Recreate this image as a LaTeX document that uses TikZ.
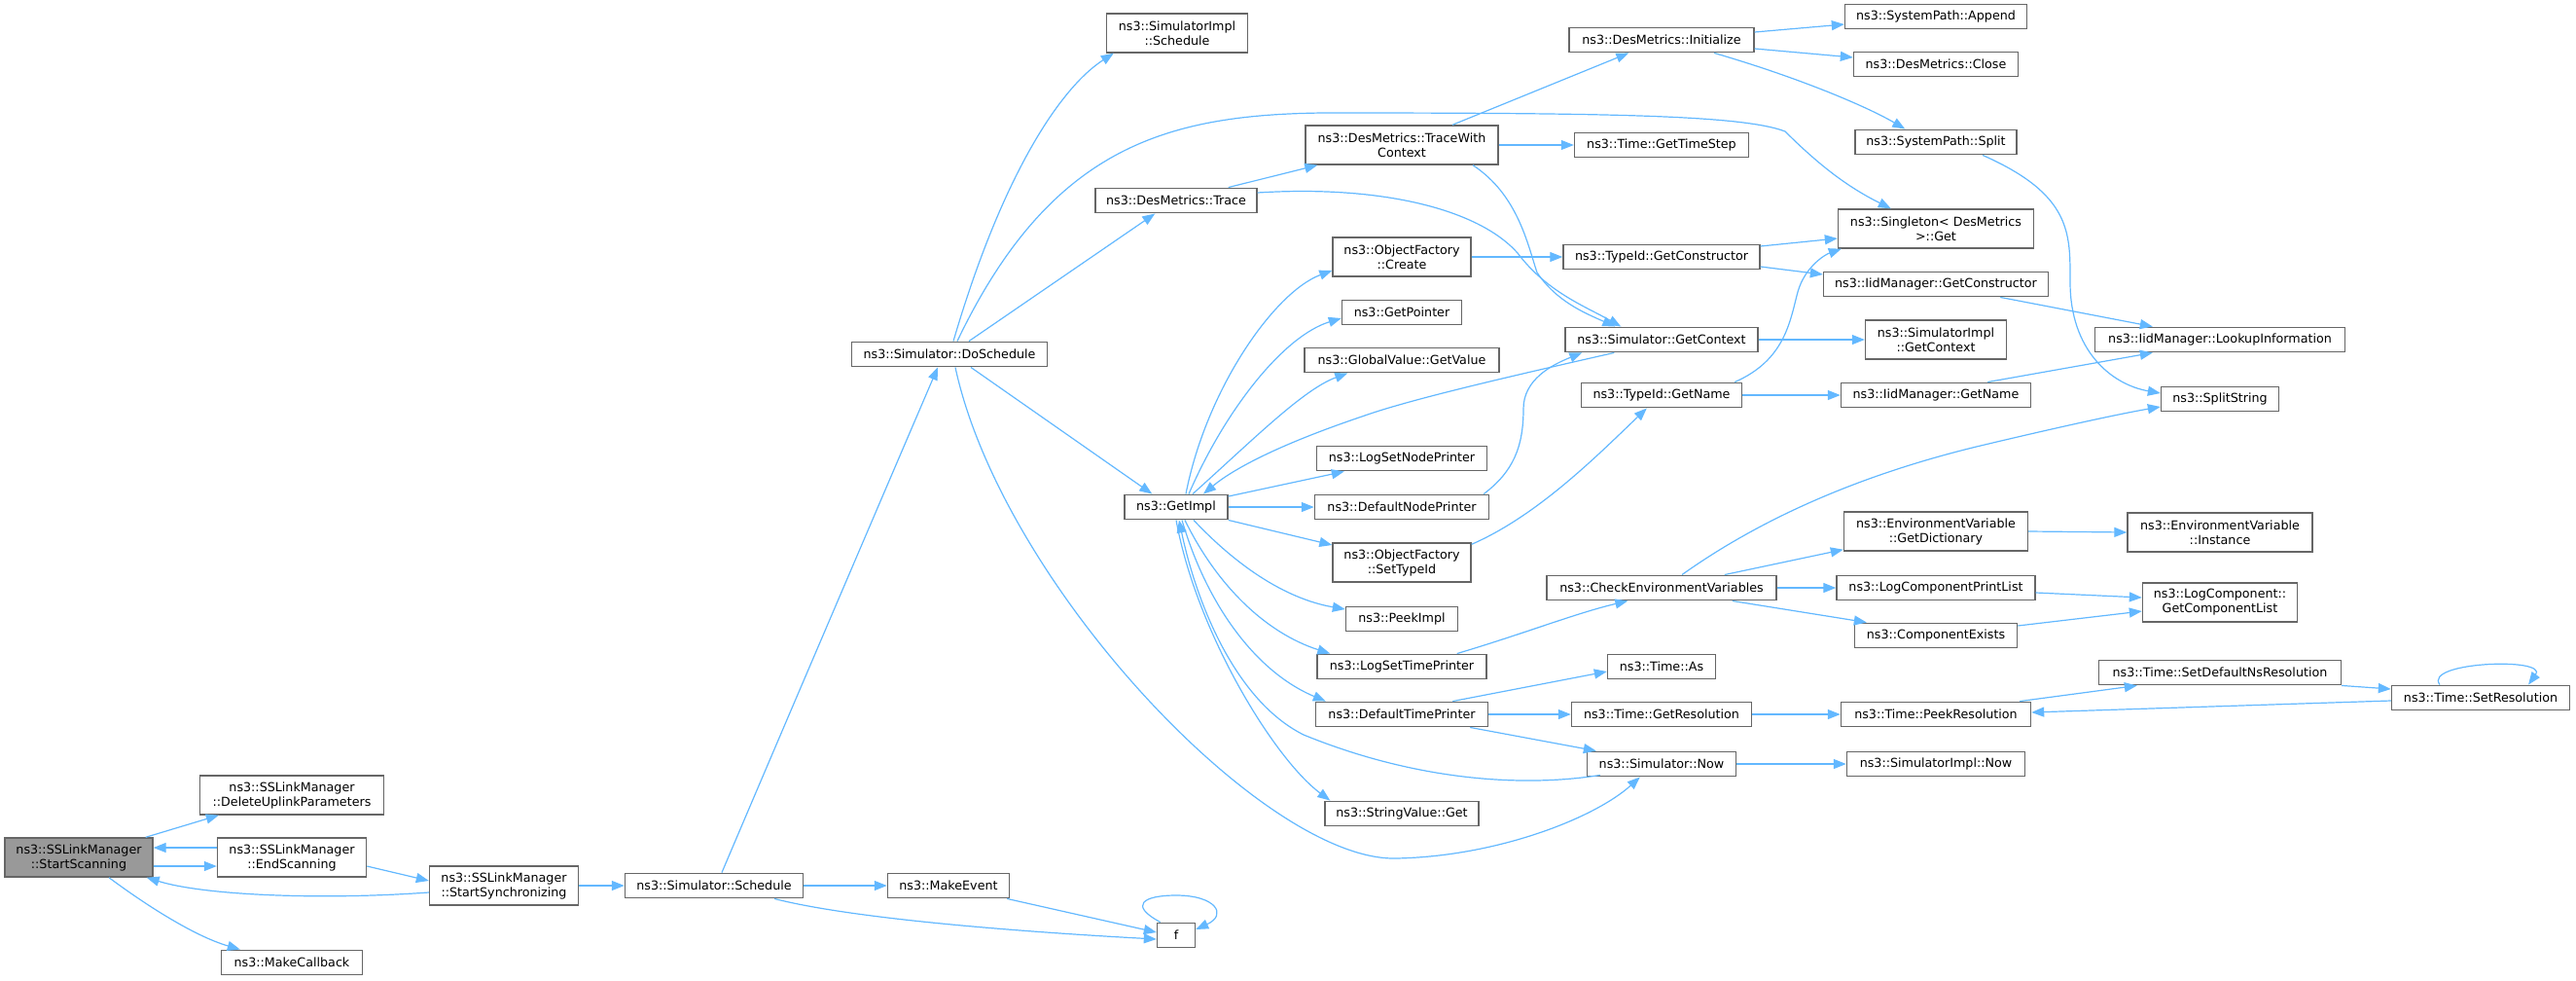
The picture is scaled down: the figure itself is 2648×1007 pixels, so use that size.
\documentclass[tikz,border=0pt]{standalone}
\usepackage{fontspec}
\setmainfont{DejaVu Sans}
\usetikzlibrary{arrows.meta,calc}
\definecolor{edgeblue}{HTML}{63B8FF}
\definecolor{boxgray}{HTML}{666666}
\definecolor{rootgray}{HTML}{999999}
\begin{document}
\begin{tikzpicture}[x=1pt,y=-1pt,
    fn/.style={draw=boxgray,line width=1.4pt,fill=white,inner sep=0pt,align=center,
      minimum height=25.5pt,font=\fontsize{12.7}{15}\selectfont},
    fn2/.style={fn,minimum height=40pt},
    call/.style={draw=edgeblue,line width=1.2pt,-{Triangle[length=13pt,width=10pt]}}]
    \useasboundingbox (0,0) rectangle (2648,1007);

    \node[fn2,fill=rootgray,minimum width=152pt] (ss) at (81,881) {ns3::SSLinkManager\\::StartScanning};
    \node[fn2,minimum width=189pt] (dup) at (300,817) {ns3::SSLinkManager\\::DeleteUplinkParameters};
    \node[fn2,minimum width=153pt] (es) at (300,881) {ns3::SSLinkManager\\::EndScanning};
    \node[fn,minimum width=145pt] (mc) at (300,989) {ns3::MakeCallback};
    \node[fn2,minimum width=153pt] (sync) at (518,910) {ns3::SSLinkManager\\::StartSynchronizing};
    \node[fn,minimum width=183pt] (sched) at (734,910) {ns3::Simulator::Schedule};
    \node[fn,minimum width=125pt] (mev) at (975,910) {ns3::MakeEvent};
    \node[fn,minimum width=39pt] (f) at (1209,961) {f};
    \node[fn,minimum width=201pt] (dos) at (976,364) {ns3::Simulator::DoSchedule};

    \node[fn2,minimum width=145pt] (implsched) at (1210,34) {ns3::SimulatorImpl\\::Schedule};
    \node[fn,minimum width=166pt] (trace) at (1209,206) {ns3::DesMetrics::Trace};
    \node[fn,minimum width=106pt] (gimpl) at (1209,521) {ns3::GetImpl};

    \node[fn2,minimum width=198pt] (twc) at (1441,149) {ns3::DesMetrics::TraceWith\\Context};
    \node[fn2,minimum width=142pt] (ofc) at (1441,264) {ns3::ObjectFactory\\::Create};
    \node[fn,minimum width=123pt] (gptr) at (1441,321) {ns3::GetPointer};
    \node[fn,minimum width=200pt] (gval) at (1441,370) {ns3::GlobalValue::GetValue};
    \node[fn,minimum width=175pt] (lsnp) at (1441,471) {ns3::LogSetNodePrinter};
    \node[fn,minimum width=179pt] (dnp) at (1441,521) {ns3::DefaultNodePrinter};
    \node[fn2,minimum width=142pt] (ofs) at (1441,578) {ns3::ObjectFactory\\::SetTypeId};
    \node[fn,minimum width=115pt] (peek) at (1441,636) {ns3::PeekImpl};
    \node[fn,minimum width=174pt] (lstp) at (1441,685) {ns3::LogSetTimePrinter};
    \node[fn,minimum width=177pt] (dtp) at (1441,734) {ns3::DefaultTimePrinter};
    \node[fn,minimum width=158pt] (svget) at (1441,836) {ns3::StringValue::Get};

    \node[fn,minimum width=190pt] (init) at (1708,41) {ns3::DesMetrics::Initialize};
    \node[fn,minimum width=179pt] (tstep) at (1708,149) {ns3::Time::GetTimeStep};
    \node[fn,minimum width=202pt] (gcons) at (1708,264) {ns3::TypeId::GetConstructor};
    \node[fn,minimum width=198pt] (sgctx) at (1708,349) {ns3::Simulator::GetContext};
    \node[fn,minimum width=165pt] (tgname) at (1708,406) {ns3::TypeId::GetName};
    \node[fn,minimum width=236pt] (cev) at (1708,604) {ns3::CheckEnvironmentVariables};
    \node[fn,minimum width=111pt] (tas) at (1708,685) {ns3::Time::As};
    \node[fn,minimum width=185pt] (gres) at (1708,734) {ns3::Time::GetResolution};
    \node[fn,minimum width=153pt] (snow) at (1708,785) {ns3::Simulator::Now};

    \node[fn,minimum width=187pt] (app) at (1990,17) {ns3::SystemPath::Append};
    \node[fn,minimum width=169pt] (close) at (1990,66) {ns3::DesMetrics::Close};
    \node[fn,minimum width=166pt] (split) at (1990,146) {ns3::SystemPath::Split};
    \node[fn2,minimum width=201pt] (sget) at (1990,235) {ns3::Singleton< DesMetrics\\ >::Get};
    \node[fn,minimum width=231pt] (iidcons) at (1990,292) {ns3::IidManager::GetConstructor};
    \node[fn2,minimum width=145pt] (implctx) at (1990,349) {ns3::SimulatorImpl\\::GetContext};
    \node[fn,minimum width=195pt] (iidname) at (1990,406) {ns3::IidManager::GetName};
    \node[fn2,minimum width=189pt] (gdict) at (1990,546) {ns3::EnvironmentVariable\\::GetDictionary};
    \node[fn,minimum width=204pt] (lcpl) at (1990,604) {ns3::LogComponentPrintList};
    \node[fn,minimum width=167pt] (cex) at (1990,653) {ns3::ComponentExists};
    \node[fn,minimum width=195pt] (pres) at (1990,734) {ns3::Time::PeekResolution};
    \node[fn,minimum width=183pt] (implnow) at (1990,785) {ns3::SimulatorImpl::Now};

    \node[fn,minimum width=257pt] (lookup) at (2282,349) {ns3::IidManager::LookupInformation};
    \node[fn,minimum width=121pt] (splits) at (2282,410) {ns3::SplitString};
    \node[fn2,minimum width=190pt] (evinst) at (2282,547) {ns3::EnvironmentVariable\\::Instance};
    \node[fn2,minimum width=159pt] (gcl) at (2282,619) {ns3::LogComponent::\\GetComponentList};
    \node[fn,minimum width=249pt] (sdnr) at (2282,691) {ns3::Time::SetDefaultNsResolution};
    \node[fn,minimum width=183pt] (sres) at (2550,717) {ns3::Time::SetResolution};

    \draw[call] ($(ss.north east)+(-8,0)$) -- ($(dup.south west)+(20,0)$);
    \draw[call] ($(ss.east)+(0,9)$) -- ($(es.west)+(0,9)$);
    \draw[call] ($(es.west)+(0,-10)$) -- ($(ss.east)+(0,-10)$);
    \draw[call] ($(es.east)+(0,9)$) -- ($(sync.west)+(0,-5)$);
    \draw[call] ($(sync.west)+(0,7)$) .. controls (330,925) and (210,920) .. ($(ss.south east)+(-7,0)$);
    \draw[call] ($(ss.south)+(31,0)$) .. controls (150,930) and (200,962) .. ($(mc.north west)+(20,0)$);
    \draw[call] (sync.east) -- (sched.west);
    \draw[call] (sched.east) -- (mev.west);
    \draw[call] ($(sched.north)+(8,0)$) .. controls (800,760) and (920,480) .. ($(dos.south)+(-12,0)$);
    \draw[call] ($(sched.south)+(62,0)$) .. controls (880,945) and (1060,958) .. ($(f.west)+(0,4)$);
    \draw[call] ($(mev.south east)+(-3,0)$) -- ($(f.west)+(0,-3)$);
    \draw[call] ($(f.north west)+(4,0)$) .. controls (1160,930) and (1175,920) .. (1209,920)
      .. controls (1250,920) and (1262,940) .. ($(f.east)+(0,-6)$);

    \draw[call] ($(dos.north)+(4,0)$) .. controls (1030,180) and (1090,90) .. ($(implsched.south west)+(8,0)$);
    \draw[call] ($(dos.north)+(8,0)$) .. controls (1080,150) and (1200,118) .. (1360,116)
      .. controls (1650,116) and (1790,118) .. (1835,135)
      .. controls (1875,175) and (1905,195) .. ($(sget.north west)+(55,0)$);
    \draw[call] ($(dos.north)+(20,0)$) -- ($(trace.south west)+(62,0)$);
    \draw[call] ($(dos.south)+(22,0)$) -- ($(gimpl.north west)+(29,0)$);
    \draw[call] ($(dos.south)+(6,0)$) .. controls (1030,600) and (1300,885) .. (1435,882)
      .. controls (1540,880) and (1640,840) .. ($(snow.south west)+(55,0)$);

    \draw[call] ($(trace.north east)+(-30,0)$) -- ($(twc.south west)+(13,0)$);
    \draw[call] ($(trace.east)+(0,-8)$) .. controls (1420,190) and (1520,215) .. (1560,260)
      .. controls (1590,300) and (1630,315) .. ($(sgctx.north west)+(58,0)$);
    \draw[call] ($(twc.south)+(73,0)$) .. controls (1560,200) and (1570,250) .. (1580,280)
      .. controls (1600,310) and (1630,322) .. ($(sgctx.north west)+(52,0)$);
    \draw[call] ($(twc.north)+(52,0)$) -- ($(init.south west)+(62,0)$);
    \draw[call] (twc.east) -- (tstep.west);
    \draw[call] ($(init.east)+(0,-8)$) -- ($(app.west)+(0,8)$);
    \draw[call] ($(init.east)+(0,9)$) -- ($(close.west)+(0,-7)$);
    \draw[call] ($(init.south)+(54,0)$) .. controls (1850,80) and (1920,110) .. ($(split.north west)+(52,0)$);
    \draw[call] ($(split.south)+(48,0)$) .. controls (2130,200) and (2128,240) .. (2128,290)
      .. controls (2128,360) and (2170,395) .. ($(splits.west)+(0,-6)$);

    \draw[call] (ofc.east) -- (gcons.west);
    \draw[call] ($(gcons.east)+(0,-11)$) -- ($(sget.west)+(0,10)$);
    \draw[call] ($(gcons.east)+(0,10)$) -- ($(iidcons.west)+(0,-10)$);
    \draw[call] ($(iidcons.south east)+(-50,0)$) -- ($(lookup.north west)+(60,0)$);
    \draw[call] (sgctx.east) -- (implctx.west);
    \draw[call] ($(sgctx.south west)+(51,0)$) .. controls (1560,385) and (1450,410) .. (1400,428)
      .. controls (1320,455) and (1270,480) .. ($(gimpl.north)+(28,0)$);
    \draw[call] ($(tgname.north east)+(-8,0)$) .. controls (1835,370) and (1840,330) .. (1848,300)
      .. controls (1855,275) and (1875,262) .. ($(sget.south west)+(4,0)$);
    \draw[call] (tgname.east) -- (iidname.west);
    \draw[call] ($(iidname.north east)+(-45,0)$) -- ($(lookup.south west)+(60,0)$);

    \draw[call] ($(gimpl.north)+(10,0)$) .. controls (1240,400) and (1310,300) .. ($(ofc.west)+(0,14)$);
    \draw[call] ($(gimpl.north)+(13,0)$) .. controls (1260,420) and (1320,345) .. ($(gptr.west)+(0,6)$);
    \draw[call] ($(gimpl.north)+(17,0)$) .. controls (1290,450) and (1340,400) .. ($(gval.south west)+(45,0)$);
    \draw[call] ($(gimpl.east)+(0,-11)$) -- ($(lsnp.south west)+(29,0)$);
    \draw[call] (gimpl.east) -- (dnp.west);
    \draw[call] ($(dnp.north east)+(-6,0)$) .. controls (1555,485) and (1566,460) .. (1566,420)
      .. controls (1566,390) and (1595,375) .. ($(sgctx.south west)+(18,0)$);
    \draw[call] (gimpl.south east) -- ($(ofs.west)+(0,-18)$);
    \draw[call] ($(ofs.north east)+(0,2)$) .. controls (1580,530) and (1640,470) .. ($(tgname.south west)+(68,0)$);
    \draw[call] ($(gimpl.south)+(18,0)$) .. controls (1270,580) and (1320,615) .. ($(peek.west)+(0,-10)$);
    \draw[call] ($(gimpl.south)+(9,0)$) .. controls (1250,600) and (1300,650) .. ($(lstp.north west)+(14,0)$);
    \draw[call] ($(lstp.north east)+(-31,0)$) .. controls (1570,650) and (1620,630) .. ($(cev.south west)+(84,0)$);
    \draw[call] ($(gimpl.south)+(6,0)$) .. controls (1240,620) and (1290,690) .. ($(dtp.north west)+(11,0)$);
    \draw[call] ($(snow.south west)+(14,-2)$) .. controls (1560,810) and (1450,800) .. (1340,755)
      .. controls (1270,720) and (1230,620) .. ($(gimpl.south)+(3,0)$);
    \draw[call] (gimpl.south) .. controls (1230,650) and (1310,780) .. ($(svget.north west)+(6,0)$);

    \draw[call] ($(dtp.north east)+(-37,0)$) -- ($(tas.west)+(0,5)$);
    \draw[call] (dtp.east) -- (gres.west);
    \draw[call] ($(dtp.south east)+(-19,0)$) -- ($(snow.north west)+(10,0)$);
    \draw[call] ($(cev.north)+(21,0)$) .. controls (1800,540) and (1900,490) .. (2040,457)
      .. controls (2120,438) and (2180,425) .. ($(splits.west)+(0,8)$);
    \draw[call] ($(cev.north east)+(-54,0)$) -- ($(gdict.south west)+(0,-2)$);
    \draw[call] (cev.east) -- (lcpl.west);
    \draw[call] ($(cev.south east)+(-46,0)$) -- ($(cex.north west)+(13,0)$);
    \draw[call] (gdict.east) -- (evinst.west);
    \draw[call] ($(lcpl.east)+(0,5)$) -- ($(gcl.west)+(0,-5)$);
    \draw[call] ($(cex.east)+(0,-10)$) -- ($(gcl.west)+(0,9)$);
    \draw[call] (gres.east) -- (pres.west);
    \draw[call] ($(pres.north east)+(-12,0)$) -- ($(sdnr.south west)+(40,0)$);
    \draw[call] (sdnr.south east) -- ($(sres.west)+(0,-9)$);
    \draw[call] ($(sres.west)+(0,3)$) -- ($(pres.east)+(0,-2)$);
    \draw[call] ($(sres.north)+(-42,0)$) .. controls (2490,680) and (2620,675) .. ($(sres.north)+(49,0)$);
    \draw[call] (snow.east) -- (implnow.west);
\end{tikzpicture}
\end{document}
